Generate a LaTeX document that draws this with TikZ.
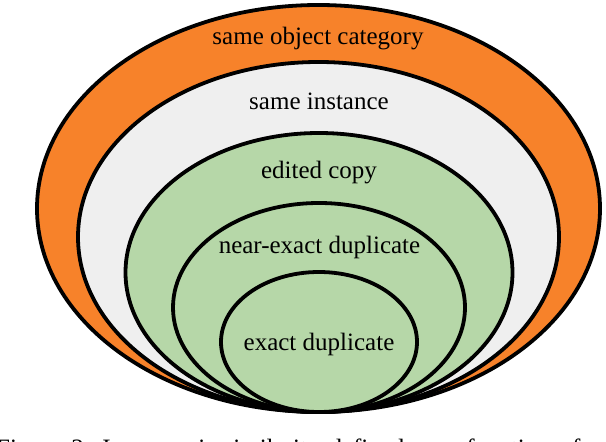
\documentclass[tikz,border=0pt]{standalone}
\usepackage{fontspec}
\setmainfont{Liberation Serif}
\definecolor{catorange}{HTML}{F7822A}
\definecolor{instgrey}{HTML}{EFEFEF}
\definecolor{copygreen}{HTML}{B6D7A8}
\begin{document}
\begin{tikzpicture}[x=1bp,y=-1bp,
  ring/.style={draw=black,line width=3.8bp},
  lbl/.style={anchor=base,inner sep=0pt,font=\fontsize{25bp}{30bp}\selectfont}]
\useasboundingbox (0,0) rectangle (606,442);
\clip (0,0) rectangle (606,442);
\fill[white] (0,0) rectangle (606,442);
\path[ring,fill=catorange] (318.5,208.5) ellipse [x radius=281.5,y radius=203.5];
\path[ring,fill=instgrey] (318.5,237) ellipse [x radius=240.5,y radius=175];
\path[ring,fill=copygreen] (319,272.5) ellipse [x radius=193.5,y radius=139.5];
\path[ring,fill=copygreen] (319,307.5) ellipse [x radius=146,y radius=104.5];
\path[ring,fill=copygreen] (319,342) ellipse [x radius=98,y radius=70];
\node[lbl] (cat) at (318,45) {same object category};
\node[lbl] (inst) at (319,110) {same instance};
\node[lbl] (copy) at (319,179) {edited copy};
\node[lbl] (near) at (319.5,254) {near-exact duplicate};
\node[lbl] (exact) at (319,350) {exact duplicate};
\node[anchor=base west,inner sep=0pt,font=\fontsize{25bp}{30bp}\selectfont] (cap) at (-4,456)
  {\spaceskip=10bp Figure 2. Image pair similarity defined as a function of};
\end{tikzpicture}
\end{document}
